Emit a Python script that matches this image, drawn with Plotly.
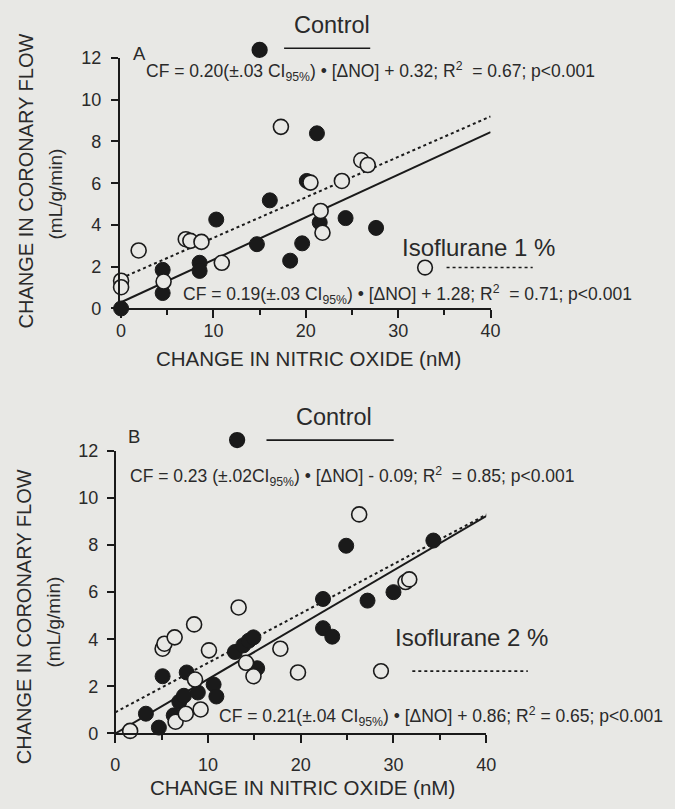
import plotly.graph_objects as go

# ---------------- data ----------------
# Panel A
a_ctrl_x = [0, 4.5, 4.5, 8.5, 8.5, 10.3, 14.7, 16.1, 18.3, 19.6, 20.1, 21.2, 21.5, 24.3, 27.6]
a_ctrl_y = [0, 0.74, 1.85, 2.19, 1.8, 4.26, 3.08, 5.18, 2.29, 3.12, 6.11, 8.39, 4.12, 4.33, 3.86]
a_iso_x = [0, 0, 1.9, 4.6, 7.0, 7.5, 8.7, 10.9, 17.3, 20.5, 21.6, 21.8, 23.9, 26.0, 26.7]
a_iso_y = [1.33, 1.02, 2.78, 1.29, 3.32, 3.24, 3.19, 2.19, 8.7, 6.03, 4.67, 3.63, 6.11, 7.1, 6.87]
a_fit_x = [0, 40]
a_ctrl_fit_y = [0.3, 8.45]
a_iso_fit_y = [1.45, 9.2]

# Panel B
b_ctrl_x = [3.3, 4.7, 5.1, 6.3, 6.9, 7.4, 7.7, 8.9, 10.6, 10.9, 12.9, 13.8, 14.4, 14.9, 15.3,
            22.4, 22.4, 23.4, 24.9, 27.2, 30.0, 34.3]
b_ctrl_y = [0.84, 0.25, 2.43, 0.77, 1.35, 1.6, 2.59, 1.74, 2.08, 1.57, 3.46, 3.74, 3.94, 4.08, 2.77,
            5.71, 4.47, 4.11, 7.97, 5.64, 6.0, 8.19]
b_iso_x = [1.6, 5.1, 5.3, 6.4, 6.5, 7.6, 8.5, 8.6, 9.2, 10.1, 13.3, 14.1, 14.9, 17.8, 19.7,
           26.3, 31.3, 31.7, 40.3]
b_iso_y = [0.11, 3.6, 3.81, 4.08, 0.5, 0.84, 4.63, 2.29, 1.02, 3.53, 5.35, 3.0, 2.43, 3.6, 2.59,
           9.3, 6.43, 6.54, 10.15]
b_fit_x = [0, 40.3]
b_ctrl_fit_y = [0.0, 9.3]
b_iso_fit_y = [0.9, 9.35]

x_ticks = [0, 10, 20, 30, 40]
y_ticks = [0, 2, 4, 6, 8, 10, 12]

eq_a_ctrl = "CF = 0.20(±.03 CI<sub>95%</sub>) • [ΔNO] + 0.32; R<sup>2</sup>  = 0.67; p&lt;0.001"
eq_a_iso = "CF = 0.19(±.03 CI<sub>95%</sub>) • [ΔNO] + 1.28; R<sup>2</sup>  = 0.71; p&lt;0.001"
eq_b_ctrl = "CF = 0.23 (±.02CI<sub>95%</sub>) • [ΔNO] - 0.09; R<sup>2</sup>  = 0.85; p&lt;0.001"
eq_b_iso = "CF = 0.21(±.04 CI<sub>95%</sub>) • [ΔNO] + 0.86; R<sup>2</sup> = 0.65; p&lt;0.001"

# ---------------- style ----------------
PAGE_W, PAGE_H = 675, 809
BODY_M = 8                      # default page body margin
W, H = PAGE_W - 2 * BODY_M, PAGE_H - 2 * BODY_M
BG = "#e8e8e5"
INK = "#1a1a1a"
TXT = "#2a2a2a"
FONT = "Liberation Sans, Arial, Helvetica, sans-serif"
MS = 15


def px(xp):
    return (xp - BODY_M) / W


def py(yp):
    return 1 - (yp - BODY_M) / H


fig = go.Figure()


def add_panel(xa, ya, cx, cy, ix, iy, fx, fcy, fiy):
    fig.add_trace(go.Scatter(x=fx, y=fcy, mode="lines", xaxis=xa, yaxis=ya,
                             line=dict(color=INK, width=2), showlegend=False, hoverinfo="skip"))
    fig.add_trace(go.Scatter(x=fx, y=fiy, mode="lines", xaxis=xa, yaxis=ya,
                             line=dict(color=INK, width=2, dash="dot"), showlegend=False, hoverinfo="skip"))
    fig.add_trace(go.Scatter(x=cx, y=cy, mode="markers", xaxis=xa, yaxis=ya, cliponaxis=False,
                             marker=dict(size=MS, color=INK, line=dict(color=INK, width=1)),
                             showlegend=False))
    fig.add_trace(go.Scatter(x=ix, y=iy, mode="markers", xaxis=xa, yaxis=ya, cliponaxis=False,
                             marker=dict(size=MS, color=BG, line=dict(color=INK, width=1.6)),
                             showlegend=False))


add_panel("x", "y", a_ctrl_x, a_ctrl_y, a_iso_x, a_iso_y, a_fit_x, a_ctrl_fit_y, a_iso_fit_y)
add_panel("x2", "y2", b_ctrl_x, b_ctrl_y, b_iso_x, b_iso_y, b_fit_x, b_ctrl_fit_y, b_iso_fit_y)

axis_common = dict(showline=True, linecolor=INK, linewidth=1.6, showgrid=False, zeroline=False,
                   ticks="outside", tickcolor=INK, tickwidth=1.6,
                   tickfont=dict(family=FONT, size=18, color=TXT))
minor_x = dict(dtick=5, tick0=0, ticklen=5, ticks="outside", tickcolor=INK, tickwidth=1.6)

fig.update_layout(
    width=W, height=H, margin=dict(l=0, r=0, t=0, b=0),
    paper_bgcolor=BG, plot_bgcolor=BG, showlegend=False,
    font=dict(family=FONT, color=TXT),
    xaxis=dict(domain=[px(113.8), px(497)], range=[-0.6, 40], anchor="y",
               tickvals=x_ticks, ticklen=8, ticklabelstandoff=-3, minor=minor_x, **axis_common),
    yaxis=dict(domain=[py(306), py(49)], range=[0, 12], anchor="free", position=px(117),
               tickvals=y_ticks, ticklen=7, ticklabelstandoff=6, **axis_common),
    xaxis2=dict(domain=[px(112.6), px(492.5)], range=[-0.1, 40], anchor="y2",
                tickvals=x_ticks, ticklen=8, ticklabelstandoff=6, minor=minor_x, **axis_common),
    yaxis2=dict(domain=[py(742), py(452)], range=[0, 12], anchor="free", position=px(113),
                tickvals=y_ticks, ticklen=7, ticklabelstandoff=5, **axis_common),
)

ann = []


def text(x, y, s, size, angle=0, xanchor="center"):
    ann.append(dict(x=px(x), y=py(y), xref="paper", yref="paper", text=s, showarrow=False,
                    xanchor=xanchor, yanchor="middle", textangle=angle,
                    font=dict(family=FONT, size=size, color=TXT)))


# Panel A texts
text(335, 15, "Control", 23.5)
text(138, 44, "A", 18.5)
text(143, 63, eq_a_ctrl, 17.5, xanchor="left")
text(181, 292, eq_a_iso, 17.5, xanchor="left")
text(485, 243, "Isoflurane 1 %", 24)
text(311, 357, "CHANGE IN NITRIC OXIDE (nM)", 20.5)
text(22, 175, "CHANGE IN CORONARY FLOW", 20, angle=-90)
text(52, 189, "(mL/g/min)", 19, angle=-90)

# Panel B texts
text(337, 417, "Control", 23.5)
text(133, 437, "B", 18.5)
text(127, 478, eq_b_ctrl, 17.5, xanchor="left")
text(217, 725, eq_b_iso, 17.5, xanchor="left")
text(477, 644, "Isoflurane 2 %", 24)
text(305, 797, "CHANGE IN NITRIC OXIDE (nM)", 20.5)
text(20, 622, "CHANGE IN CORONARY FLOW", 20, angle=-90)
text(50, 628, "(mL/g/min)", 19, angle=-90)

fig.update_layout(annotations=ann)

# legend keys (drawn as shapes in paper space)
shapes = []


def circle(cx, cy, r, filled):
    shapes.append(dict(type="circle", xref="paper", yref="paper",
                       x0=px(cx - r), x1=px(cx + r), y0=py(cy + r), y1=py(cy - r),
                       fillcolor=INK if filled else BG, line=dict(color=INK, width=1.6)))


def hline(x0, x1, y, dash="solid"):
    shapes.append(dict(type="line", xref="paper", yref="paper", x0=px(x0), x1=px(x1),
                       y0=py(y), y1=py(y), line=dict(color=INK, width=1.6, dash=dash)))


circle(261, 40.7, 7.5, True)
hline(286, 374, 39)
circle(430, 264, 7.5, False)
hline(452, 540, 264, "dot")
circle(238, 441, 7.5, True)
hline(268, 398, 441)
circle(385, 678, 7.5, False)
hline(417, 535, 678, "dot")

fig.update_layout(shapes=shapes)

fig.write_html(
    "out.html",
    config={"displayModeBar": False},
    post_script="document.body.style.background='" + BG + "';"
                "document.documentElement.style.background='" + BG + "';",
)
